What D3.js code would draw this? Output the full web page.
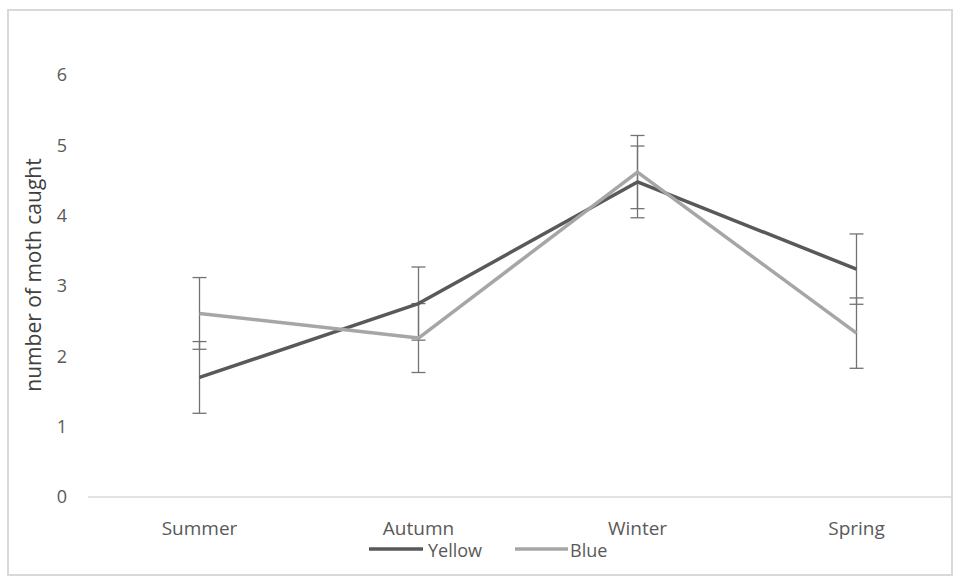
<!DOCTYPE html>
<html>
<head>
<meta charset="utf-8">
<script src="https://cdn.jsdelivr.net/npm/d3@7"></script>
<style>
  html, body { margin: 0; padding: 0; background: #fff; }
  svg { display: block; }
</style>
</head>
<body>
<svg id="chart" width="957" height="583"></svg>
<script>
const categories = ["Summer", "Autumn", "Winter", "Spring"];
const yellowValues = [1.70, 2.75, 4.48, 3.24];
const yellowErrors = [0.51, 0.52, 0.51, 0.50];
const blueValues = [2.61, 2.26, 4.62, 2.33];
const blueErrors = [0.51, 0.49, 0.52, 0.50];
const yTicks = [0, 1, 2, 3, 4, 5, 6];
const seriesNames = ["Yellow", "Blue"];
const yTitle = "number of moth caught";

const series = [
  { name: seriesNames[0], values: yellowValues, errors: yellowErrors, color: "#595959", width: 3.5 },
  { name: seriesNames[1], values: blueValues, errors: blueErrors, color: "#a6a6a6", width: 3.5 }
];

const svg = d3.select("#chart");
const font = "'Open Sans', 'Liberation Sans', sans-serif";

// outer frame
svg.append("rect")
  .attr("x", 8).attr("y", 10).attr("width", 944).attr("height", 565)
  .attr("fill", "#fff").attr("stroke", "#d9d9d9").attr("stroke-width", 2);

const x = d3.scaleBand().domain(categories).range([90, 966]);
const y = d3.scaleLinear().domain([0, 6]).range([497, 75]);

// y tick labels (no axis line)
const yAxis = d3.axisLeft(y).tickValues(yTicks).tickSize(0).tickPadding(0).tickFormat(d3.format("d"));
const gy = svg.append("g").attr("transform", "translate(62,0)").call(yAxis);
gy.select(".domain").remove();
gy.selectAll("text")
  .attr("font-family", font).attr("font-size", 18).attr("fill", "#595959")
  .attr("text-anchor", "middle").attr("dx", 0);

// x axis
const xAxis = d3.axisBottom(x).tickSize(0).tickPadding(0);
const gx = svg.append("g").attr("transform", "translate(0,497)").call(xAxis);
gx.select(".domain").attr("d", "M88,0H952").attr("stroke", "#d9d9d9").attr("stroke-width", 1.5);
gx.selectAll("text")
  .attr("font-family", font).attr("font-size", 19).attr("fill", "#595959")
  .attr("dy", 0).attr("y", 38);

// y axis title
svg.append("text")
  .attr("transform", "translate(41,275) rotate(-90)")
  .attr("text-anchor", "middle")
  .attr("font-family", font).attr("font-size", 21).attr("fill", "#404040")
  .text(yTitle);

const cx = d => x(d) + x.bandwidth() / 2;

// error bars
series.forEach(s => {
  const g = svg.append("g");
  categories.forEach((c, i) => {
    const xc = cx(c);
    const hi = y(s.values[i] + s.errors[i]);
    const lo = y(s.values[i] - s.errors[i]);
    g.append("line").attr("x1", xc).attr("x2", xc).attr("y1", hi).attr("y2", lo)
      .attr("stroke", "#737373").attr("stroke-width", 1.3);
    [hi, lo].forEach(yy => {
      g.append("line").attr("x1", xc - 7).attr("x2", xc + 7).attr("y1", yy).attr("y2", yy)
        .attr("stroke", "#737373").attr("stroke-width", 1.3);
    });
  });
});

// lines
const line = d3.line().x((d, i) => cx(categories[i])).y(d => y(d));
series.forEach(s => {
  svg.append("path").datum(s.values)
    .attr("d", line)
    .attr("fill", "none").attr("stroke", s.color).attr("stroke-width", s.width)
    .attr("stroke-linejoin", "round");
});

// legend
const legendItems = [
  { s: series[0], x1: 369, x2: 423, tx: 428 },
  { s: series[1], x1: 515, x2: 568, tx: 570 }
];
legendItems.forEach(li => {
  svg.append("line").attr("x1", li.x1).attr("x2", li.x2).attr("y1", 549).attr("y2", 549)
    .attr("stroke", li.s.color).attr("stroke-width", li.s.width);
  svg.append("text").attr("x", li.tx).attr("y", 557)
    .attr("font-family", font).attr("font-size", 18).attr("fill", "#595959")
    .text(li.s.name);
});
</script>
</body>
</html>
